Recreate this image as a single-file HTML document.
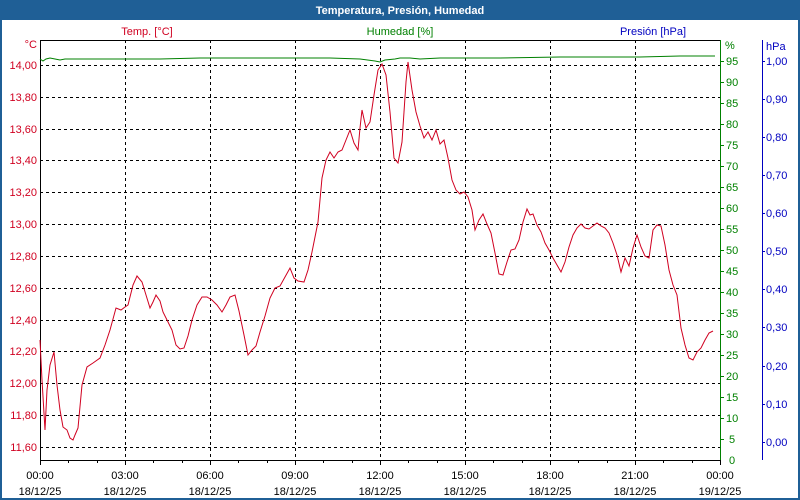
<!DOCTYPE html>
<html><head><meta charset="utf-8"><style>
body{margin:0;width:800px;height:500px;overflow:hidden;background:#fff}
svg{display:block;font-family:"Liberation Sans",sans-serif;font-size:11px}
</style></head><body>
<svg width="800" height="500" viewBox="0 0 800 500">
<rect x="0" y="0" width="800" height="500" fill="#1f5f96"/>
<rect x="2" y="20" width="796" height="478" fill="#fff"/>
<text x="400" y="14" fill="#fff" font-weight="bold" text-anchor="middle">Temperatura, Presión, Humedad</text>
<text x="147" y="35" fill="#d00020" text-anchor="middle">Temp. [°C]</text>
<text x="400" y="35" fill="#008000" text-anchor="middle">Humedad [%]</text>
<text x="653" y="35" fill="#0000c0" text-anchor="middle">Presión [hPa]</text>
<g stroke="#000" stroke-dasharray="3,3" stroke-width="1">
<path d="M40 65.5H720M40 97.5H720M40 129.5H720M40 160.5H720M40 192.5H720M40 224.5H720M40 256.5H720M40 288.5H720M40 320.5H720M40 351.5H720M40 383.5H720M40 415.5H720M40 447.5H720"/>
<path d="M125.5 40V460M210.5 40V460M295.5 40V460M380.5 40V460M465.5 40V460M550.5 40V460M635.5 40V460"/>
</g>
<path d="M40.5 40V460.5H720M40 40.5H720" stroke="#000" fill="none"/>
<g stroke="#000"><path d="M40.5 460v5M68.5 460v3M97.5 460v3M125.5 460v5M153.5 460v3M182.5 460v3M210.5 460v5M238.5 460v3M267.5 460v3M295.5 460v5M323.5 460v3M352.5 460v3M380.5 460v5M408.5 460v3M437.5 460v3M465.5 460v5M493.5 460v3M522.5 460v3M550.5 460v5M578.5 460v3M607.5 460v3M635.5 460v5M663.5 460v3M692.5 460v3M720.5 460v5"/></g>
<g fill="#d00020" text-anchor="end">
<text x="37" y="48">°C</text>
<text x="37" y="69">14,00</text><text x="37" y="101">13,80</text><text x="37" y="133">13,60</text><text x="37" y="164">13,40</text><text x="37" y="196">13,20</text><text x="37" y="228">13,00</text><text x="37" y="260">12,80</text><text x="37" y="292">12,60</text><text x="37" y="324">12,40</text><text x="37" y="355">12,20</text><text x="37" y="387">12,00</text><text x="37" y="419">11,80</text><text x="37" y="451">11,60</text>
</g>
<path d="M720.5 40V460" stroke="#008000"/>
<g stroke="#008000"><path d="M720 61.5h4M720 82.5h4M720 103.5h4M720 124.5h4M720 145.5h4M720 166.5h4M720 187.5h4M720 208.5h4M720 229.5h4M720 250.5h4M720 271.5h4M720 292.5h4M720 313.5h4M720 334.5h4M720 355.5h4M720 376.5h4M720 397.5h4M720 418.5h4M720 439.5h4"/></g>
<g fill="#008000">
<text x="725" y="49">%</text>
<text x="726" y="65">95</text><text x="726" y="86">90</text><text x="726" y="107">85</text><text x="726" y="128">80</text><text x="726" y="149">75</text><text x="726" y="170">70</text><text x="726" y="191">65</text><text x="726" y="212">60</text><text x="726" y="233">55</text><text x="726" y="254">50</text><text x="726" y="275">45</text><text x="726" y="296">40</text><text x="726" y="317">35</text><text x="726" y="338">30</text><text x="726" y="359">25</text><text x="726" y="380">20</text><text x="726" y="401">15</text><text x="726" y="422">10</text><text x="729" y="443">5</text><text x="729" y="464">0</text>
</g>
<path d="M762.5 40V460" stroke="#0000c0"/>
<g stroke="#0000c0"><path d="M762 61.5h3M762 99.5h3M762 137.5h3M762 175.5h3M762 213.5h3M762 251.5h3M762 289.5h3M762 327.5h3M762 366.5h3M762 404.5h3M762 442.5h3"/></g>
<g fill="#0000c0">
<text x="766" y="50">hPa</text>
<text x="766" y="65">1,00</text><text x="766" y="103">0,90</text><text x="766" y="141">0,80</text><text x="766" y="179">0,70</text><text x="766" y="217">0,60</text><text x="766" y="255">0,50</text><text x="766" y="293">0,40</text><text x="766" y="331">0,30</text><text x="766" y="370">0,20</text><text x="766" y="408">0,10</text><text x="766" y="446">0,00</text>
</g>
<g fill="#000" text-anchor="middle">
<text x="40" y="479">00:00</text><text x="125" y="479">03:00</text><text x="210" y="479">06:00</text><text x="295" y="479">09:00</text><text x="380" y="479">12:00</text><text x="465" y="479">15:00</text><text x="550" y="479">18:00</text><text x="635" y="479">21:00</text><text x="720" y="479">00:00</text>
<text x="40" y="495">18/12/25</text><text x="125" y="495">18/12/25</text><text x="210" y="495">18/12/25</text><text x="295" y="495">18/12/25</text><text x="380" y="495">18/12/25</text><text x="465" y="495">18/12/25</text><text x="550" y="495">18/12/25</text><text x="635" y="495">18/12/25</text><text x="720" y="495">19/12/25</text>
</g>
<polyline fill="none" stroke="#008000" points="40,59 43,61 46,59 50,58 55,59 60,60 65,59 80,59 120,59 160,59 200,58 280,58 330,58 360,59 375,61 380,62 385,60 395,59 400,58 410,58 420,59 440,58 500,58 560,57 640,57 680,56 715,56"/>
<polyline fill="none" stroke="#d00020" points="40,340 42,380 45,430 47,390 50,365 54,352 57,385 60,410 63,427 67,430 70,438 73,440 75,435 78,428 82,385 87,367 93,363 100,358 105,345 110,330 116,308 121,310 125,307 128,305 133,285 137,276 142,282 146,295 150,308 153,302 156,295 160,301 163,312 168,322 172,330 176,345 180,349 184,348 188,336 192,320 197,305 202,297 207,297 212,300 217,305 222,312 226,305 230,297 235,295 239,311 244,335 248,355 252,350 256,346 260,332 265,316 270,298 275,288 280,286 285,277 290,268 294,278 298,281 304,282 308,270 312,252 318,222 322,178 326,160 330,152 334,158 338,152 342,150 346,140 350,130 354,143 358,150 360,128 362,110 366,128 370,122 374,95 378,70 382,64 386,75 390,112 394,158 398,163 402,142 406,82 408,62 412,90 416,112 420,126 424,138 428,132 432,140 436,130 440,144 444,140 448,158 452,180 456,190 460,194 464,192 468,197 472,210 475,230 479,220 483,214 487,224 491,233 495,253 499,274 503,275 507,262 511,250 515,249 519,240 523,222 527,209 530,215 533,214 537,225 541,232 545,243 549,250 553,258 557,265 561,272 565,262 569,247 573,235 577,228 581,224 585,228 589,229 593,226 597,223 601,226 605,228 609,233 613,243 617,255 621,272 625,258 629,266 633,248 637,235 641,247 645,256 649,258 653,230 657,225 661,226 665,245 669,270 673,285 677,295 681,328 685,345 689,358 693,360 697,352 701,348 705,340 709,333 713,331"/>
</svg>
</body></html>
